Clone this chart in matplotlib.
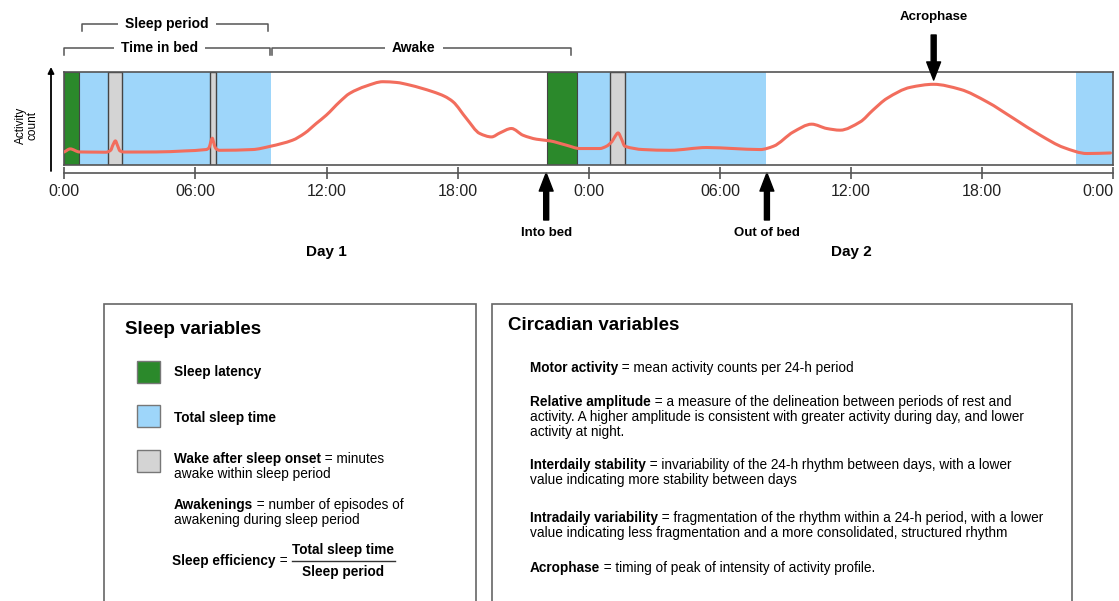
import matplotlib
matplotlib.use('Agg')
import numpy as np
import matplotlib.pyplot as plt
from matplotlib.patches import Rectangle, PathPatch
from matplotlib.path import Path
from matplotlib.transforms import blended_transform_factory

plt.rcParams['font.family'] = ['Liberation Sans', 'DejaVu Sans']

# ---- data (hours since midnight of day 1) ----
tick_hours = [0, 6, 12, 18, 24, 30, 36, 42, 48]
tick_labels = ['0:00', '06:00', '12:00', '18:00', '0:00', '06:00', '12:00', '18:00', '0:00']

latency_start = [0.0, 22.08]
latency_end = [0.69, 23.47]
sleep_start = [0.69, 23.47, 46.28]
sleep_end = [9.44, 32.11, 48.0]
waso_start = [2.02, 6.66, 24.97]
waso_end = [2.62, 6.96, 25.65]

activity_hours = [0.0, 0.27, 0.69, 1.5, 1.91, 2.12, 2.23, 2.34, 2.43, 2.55, 2.75, 4.2, 5.5,
                  6.49, 6.62, 6.7, 6.77, 6.84, 6.93, 7.1, 8.61, 9.44, 10.44, 11.0, 11.53,
                  11.99, 12.6, 13.06, 13.8, 14.58, 15.2, 15.8, 16.87, 17.4, 17.79,
                  18.4, 19.01, 19.55, 19.93, 20.46, 20.99, 21.61, 22.22, 22.98,
                  23.59, 24.5, 24.81, 25.06, 25.2, 25.34, 25.5, 25.65, 26.49, 27.71,
                  29.4, 30.61, 31.84, 32.45, 33.36, 34.2, 34.89, 35.5, 36.42,
                  37.0, 37.64, 38.71, 39.78, 41.0, 42.22, 43.44, 44.66, 45.73,
                  46.8, 47.87]
activity_counts = [13.7, 17.0, 13.7, 13.5, 13.4, 15.5, 21.5, 25.7, 21.0, 14.8, 13.6, 13.7, 14.8,
                   16.3, 18.0, 24.5, 28.6, 23.5, 17.5, 15.5, 16.3, 19.9, 26.4, 34.0, 44.6,
                   53.6, 68.0, 77.2, 85.0, 89.8, 89.0, 86.2, 78.9, 74.0, 68.0,
                   50.0, 33.7, 30.0, 34.3, 39.1, 31.8, 27.5, 25.7, 21.0,
                   17.4, 17.4, 19.9, 25.0, 30.5, 34.3, 27.5, 19.9, 16.3, 15.5,
                   18.5, 17.4, 16.3, 19.9, 35.4, 43.8, 39.1, 37.3, 46.3,
                   59.0, 71.7, 83.7, 87.0, 81.5, 68.0, 50.0, 31.8, 18.5,
                   12.0, 12.6]

event_hours = [22.05, 32.15]
event_labels = ['Into bed', 'Out of bed']
day_hours = [12, 36]
day_labels = ['Day 1', 'Day 2']

bracket_labels = ['Sleep period', 'Time in bed', 'Awake']
bracket_start = [0.82, 0.0, 9.5]
bracket_end = [9.3, 9.4, 23.2]
bracket_text_hour = [4.7, 4.35, 16.0]

sleep_items = ['Sleep latency', 'Total sleep time', 'Wake after sleep onset']
circadian_bold = ['Motor activity', 'Relative amplitude', 'Interdaily stability',
                  'Intradaily variability', 'Acrophase']
circadian_rest = [
    [' = mean activity counts per 24-h period'],
    [' = a measure of the delineation between periods of rest and',
     'activity. A higher amplitude is consistent with greater activity during day, and lower',
     'activity at night.'],
    [' = invariability of the 24-h rhythm between days, with a lower',
     'value indicating more stability between days'],
    [' = fragmentation of the rhythm within a 24-h period, with a lower',
     'value indicating less fragmentation and a more consolidated, structured rhythm'],
    [' = timing of peak of intensity of activity profile.'],
]

GREEN = '#2b892b'
BLUE = '#9ed6fa'
GRAY = '#d4d4d4'
LINE = '#f26d5d'
EDGE = '#444444'


def smooth_path(xs, ys):
    # draw the read points as one smooth (monotone hermite) bezier curve
    xs = np.asarray(xs, float)
    ys = np.asarray(ys, float)
    dx = np.diff(xs)
    sec = np.diff(ys) / dx
    m = np.zeros_like(xs)
    m[0], m[-1] = sec[0], sec[-1]
    for i in range(1, len(xs) - 1):
        a, b = sec[i - 1], sec[i]
        if a * b > 0:
            m[i] = 2 * a * b / (a + b)
    verts = [(xs[0], ys[0])]
    codes = [Path.MOVETO]
    for i in range(len(xs) - 1):
        h = dx[i] / 3
        verts += [(xs[i] + h, ys[i] + m[i] * h),
                  (xs[i + 1] - h, ys[i + 1] - m[i + 1] * h),
                  (xs[i + 1], ys[i + 1])]
        codes += [Path.CURVE4] * 3
    return Path(verts, codes)


W, H = 1119, 601
fig = plt.figure(figsize=(W / 100, H / 100), dpi=100)

# background axes in pixel units (y down) for the diagram pieces
bg = fig.add_axes([0, 0, 1, 1])
bg.set_xlim(0, W)
bg.set_ylim(H, 0)
bg.axis('off')

# activity panel
x0, x1, ytop, ybot = 64.3, 1113.3, 72.3, 164.6
ax = fig.add_axes([x0 / W, (H - ybot) / H, (x1 - x0) / W, (ybot - ytop) / H])
ax.set_xlim(0, 48)
ax.set_ylim(0, 100)
for s, e in zip(sleep_start, sleep_end):
    ax.axvspan(s, e, color=BLUE, lw=0, zorder=1)
for s, e in zip(latency_start, latency_end):
    ax.axvspan(s, e, facecolor=GREEN, edgecolor=EDGE, lw=0.8, zorder=2)
for s, e in zip(waso_start, waso_end):
    ax.axvspan(s, e, facecolor=GRAY, edgecolor=EDGE, lw=1.0, zorder=2)
ax.add_patch(PathPatch(smooth_path(activity_hours, activity_counts), fill=False,
                       edgecolor=LINE, lw=2.2, zorder=3, capstyle='round', joinstyle='round'))
ax.set_xticks([])
ax.set_yticks([])
for sp in ax.spines.values():
    sp.set_color('#555555')
    sp.set_linewidth(1.2)

# time axis below the panel
axt = fig.add_axes([x0 / W, (H - 172.5) / H, (x1 - x0) / W, 1e-4])
axt.set_xlim(0, 48)
axt.set_yticks([])
for k in ['top', 'left', 'right']:
    axt.spines[k].set_visible(False)
axt.spines['bottom'].set_color('#555555')
axt.spines['bottom'].set_linewidth(1.2)
axt.set_xticks(tick_hours)
axt.set_xticklabels(tick_labels, fontsize=11.5, color='#222222')
axt.tick_params(axis='x', direction='inout', length=8, width=1.2, color='#555555', pad=4)
axt.get_xticklabels()[-1].set_ha('right')
axt.patch.set_visible(False)

trans = blended_transform_factory(ax.transData, bg.transData)

# y arrow and label
bg.annotate('', xy=(51, 67), xytext=(51, 171),
            arrowprops=dict(arrowstyle='-|>', lw=1.3, color='black', mutation_scale=9,
                            shrinkA=0, shrinkB=0))
bg.text(27, 125, 'Activity\ncount', rotation=90, ha='center', va='center',
        fontsize=8.5, linespacing=1.0)

# brackets above the panel
bracket_y = [24, 48, 48]
for lab, s, e, th, yb in zip(bracket_labels, bracket_start, bracket_end,
                             bracket_text_hour, bracket_y):
    ax.plot([s, s, e, e], [yb + 7, yb, yb, yb + 7], transform=trans, color='#555555',
            lw=1.1, clip_on=False, zorder=5)
    ax.text(th, yb, lab, transform=trans, ha='center', va='center', fontsize=10,
            fontweight='bold', clip_on=False, zorder=6,
            bbox=dict(fc='white', ec='none', pad=5))

# event arrows
arrow_kw = dict(width=3.6, headwidth=10, headlength=13, color='black', shrink=0)
for h, lab in zip(event_hours, event_labels):
    ax.annotate('', xy=(h, 173), xytext=(h, 220), xycoords=trans, textcoords=trans,
                arrowprops=arrow_kw, annotation_clip=False)
    ax.text(h, 233, lab, transform=trans, ha='center', va='center', fontsize=9.5,
            fontweight='bold', clip_on=False)

# acrophase = peak of day 2
day2 = [(c, h) for h, c in zip(activity_hours, activity_counts) if h >= 24]
acro_h = max(day2)[1]
ax.annotate('', xy=(acro_h, 80), xytext=(acro_h, 35), xycoords=trans, textcoords=trans,
            arrowprops=arrow_kw, annotation_clip=False, zorder=10)
ax.text(acro_h, 17, 'Acrophase', transform=trans, ha='center', va='center',
        fontsize=9.5, fontweight='bold', clip_on=False)

for h, lab in zip(day_hours, day_labels):
    ax.text(h, 252, lab, transform=trans, ha='center', va='center', fontsize=11,
            fontweight='bold', clip_on=False)


def rich(x, y, bold, rest, size=9.8):
    t = bg.text(x, y, bold, fontweight='bold', fontsize=size, ha='left', va='center')
    if rest:
        bg.annotate(rest, xy=(1, 0.5), xycoords=t, ha='left', va='center', fontsize=size)
    return t


# ---- Sleep variables box ----
bg.add_patch(Rectangle((104, 304), 372, 320, fc='white', ec='#666666', lw=1.2))
bg.text(125, 329, 'Sleep variables', fontsize=13.5, fontweight='bold', ha='left', va='center')
sq_colors = [GREEN, BLUE, GRAY]
sq_y = [361, 405, 450]
for c, yy in zip(sq_colors, sq_y):
    bg.add_patch(Rectangle((137, yy), 23, 22, fc=c, ec='#777777', lw=1.0))
rich(174, 372, sleep_items[0], '')
rich(174, 418, sleep_items[1], '')
rich(174, 459, sleep_items[2], ' = minutes')
bg.text(174, 474, 'awake within sleep period', fontsize=9.8, ha='left', va='center')
rich(174, 505, 'Awakenings', ' = number of episodes of')
bg.text(174, 520, 'awakening during sleep period', fontsize=9.8, ha='left', va='center')
rich(172, 561, 'Sleep efficiency', ' =')
bg.text(343, 550, 'Total sleep time', fontsize=9.8, fontweight='bold', ha='center', va='center')
bg.plot([292, 395], [561, 561], color='#333333', lw=1.0)
bg.text(343, 572, 'Sleep period', fontsize=9.8, fontweight='bold', ha='center', va='center')

# ---- Circadian variables box ----
bg.add_patch(Rectangle((492, 304), 580, 320, fc='white', ec='#666666', lw=1.2))
bg.text(508, 326, 'Circadian variables', fontsize=13.5, fontweight='bold', ha='left', va='center')
line_y = [[368], [402, 417, 432], [465, 480], [518, 533], [568]]
for b, rest, ys in zip(circadian_bold, circadian_rest, line_y):
    rich(530, ys[0], b, rest[0], size=9.8)
    for r, yy in zip(rest[1:], ys[1:]):
        bg.text(530, yy, r, fontsize=9.8, ha='left', va='center')

fig.savefig('out.png', dpi=100)
